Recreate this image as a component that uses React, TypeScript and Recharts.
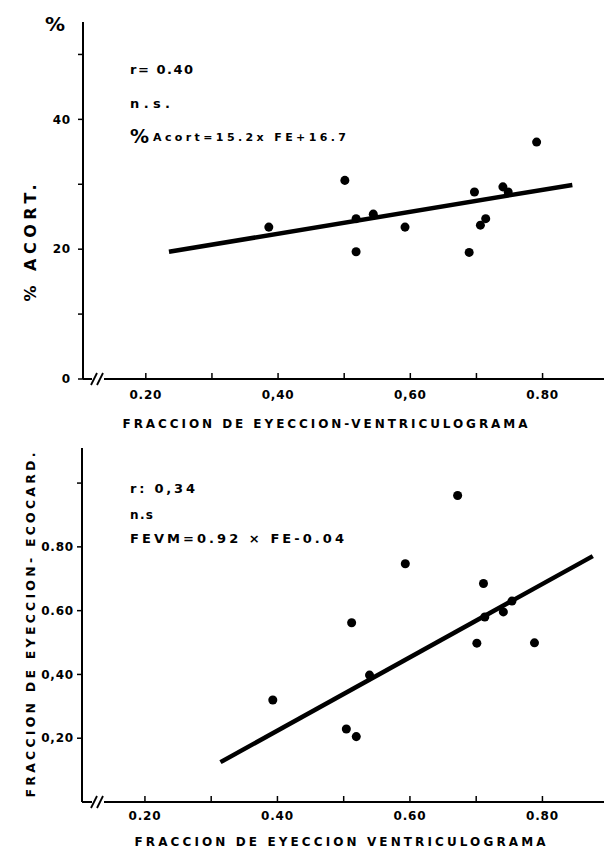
import React from 'react'
import { ScatterChart, Scatter, XAxis, YAxis, ZAxis } from 'recharts'

// top panel: % acortamiento vs FE ventriculograma
const feVentTop = [0.386, 0.501, 0.518, 0.518, 0.544, 0.592, 0.689, 0.697, 0.706, 0.714, 0.74, 0.748, 0.791]
const pctAcort = [23.4, 30.6, 24.7, 19.6, 25.4, 23.4, 19.5, 28.8, 23.7, 24.7, 29.6, 28.8, 36.5]
const fitTopX = [0.235, 0.845]
const fitTopY = [19.6, 29.9]

// bottom panel: FE ecocardiograma vs FE ventriculograma
const feVentBottom = [0.393, 0.504, 0.519, 0.512, 0.539, 0.593, 0.672, 0.701, 0.711, 0.713, 0.741, 0.754, 0.788]
const feEco = [0.32, 0.229, 0.205, 0.562, 0.398, 0.747, 0.961, 0.498, 0.685, 0.58, 0.596, 0.63, 0.499]
const fitBottomX = [0.314, 0.876]
const fitBottomY = [0.125, 0.771]

const xTicks = [0.2, 0.3, 0.4, 0.5, 0.6, 0.7, 0.8]
const xLabelsTop = ['0.20', '', '0,40', '', '0,60', '', '0.80']
const xLabelsBottom = ['0.20', '', '0.40', '', '0.60', '', '0.80']
const yTicksTop = [0, 10, 20, 30, 40, 50]
const yLabelsTop = ['0', '', '20', '', '40', '']
const yTicksBottom = [0.2, 0.4, 0.6, 0.8, 1.0]
const yLabelsBottom = ['0,20', '0,40', '0.60', '0.80', '']

const FONT = '"DejaVu Sans", sans-serif'
const tickStyle = { fontSize: 12, fontWeight: 700, fill: '#000', fontFamily: FONT, letterSpacing: 0.8 }
const axisLine = { stroke: '#000', strokeWidth: 2 }
const tickLine = { stroke: '#000', strokeWidth: 1.5 }

const zip = (xs: number[], ys: number[]) => xs.map((x, i) => ({ x, y: ys[i] }))

interface PanelProps {
  points: { x: number; y: number }[]
  fit: { x: number; y: number }[]
  height: number
  marginTop: number
  xAxisHeight: number
  yAxisWidth: number
  yDomain: [number, number]
  yTicks: number[]
  yLabels: string[]
  xLabels: string[]
  xTickMargin: number
  yTickMargin: number
}

const Panel = (p: PanelProps) => (
  <ScatterChart width={612} height={p.height} margin={{ top: p.marginTop, right: 0, left: 0, bottom: 0 }}>
    <XAxis
      xAxisId="b"
      type="number"
      dataKey="x"
      domain={[0.105, 0.905]}
      ticks={xTicks}
      tickFormatter={(_v: number, i: number) => p.xLabels[i]}
      height={p.xAxisHeight}
      tickSize={-6}
      tickMargin={p.xTickMargin}
      tick={tickStyle}
      axisLine={axisLine}
      tickLine={tickLine}
      allowDataOverflow
    />
    <XAxis
      xAxisId="t"
      orientation="top"
      type="number"
      dataKey="x"
      domain={[0.105, 0.905]}
      ticks={xTicks}
      height={0}
      tick={false}
      tickSize={-6}
      axisLine={axisLine}
      tickLine={tickLine}
      allowDataOverflow
    />
    <YAxis
      type="number"
      dataKey="y"
      domain={p.yDomain}
      ticks={p.yTicks}
      tickFormatter={(_v: number, i: number) => p.yLabels[i]}
      width={p.yAxisWidth}
      tickSize={5}
      tickMargin={p.yTickMargin}
      tick={tickStyle}
      axisLine={axisLine}
      tickLine={tickLine}
      allowDataOverflow
    />
    <ZAxis range={[64, 64]} />
    <Scatter
      data={p.fit}
      xAxisId="b"
      line={{ stroke: '#000', strokeWidth: 4.5 }}
      shape={() => <g />}
      isAnimationActive={false}
    />
    <Scatter data={p.points} xAxisId="b" fill="#000" shape="circle" isAnimationActive={false} />
  </ScatterChart>
)

const txt = { fontFamily: FONT, fontWeight: 700, fill: '#000' } as const

const AxisBreak = ({ y }: { y: number }) => (
  <g>
    <rect x={92} y={y - 3} width={12} height={6} fill="#fff" />
    <line x1={91} y1={y + 6} x2={97} y2={y - 6} stroke="#000" strokeWidth={1.8} />
    <line x1={97} y1={y + 6} x2={103} y2={y - 6} stroke="#000" strokeWidth={1.8} />
  </g>
)

export default function App() {
  return (
    <div style={{ position: 'absolute', left: 0, top: 0, width: 604, height: 852, overflow: 'hidden', background: '#fff' }}>
      <div style={{ position: 'absolute', left: 0, top: 0 }}>
        <Panel
          points={zip(feVentTop, pctAcort)}
          fit={zip(fitTopX, fitTopY)}
          height={440}
          marginTop={22}
          xAxisHeight={61}
          yAxisWidth={83}
          yDomain={[0, 55]}
          yTicks={yTicksTop}
          yLabels={yLabelsTop}
          xLabels={xLabelsTop}
          xTickMargin={17}
          yTickMargin={7}
        />
      </div>
      <div style={{ position: 'absolute', left: 0, top: 440 }}>
        <Panel
          points={zip(feVentBottom, feEco)}
          fit={zip(fitBottomX, fitBottomY)}
          height={412}
          marginTop={8}
          xAxisHeight={50}
          yAxisWidth={82}
          yDomain={[0, 1.11]}
          yTicks={yTicksBottom}
          yLabels={yLabelsBottom}
          xLabels={xLabelsBottom}
          xTickMargin={15}
          yTickMargin={3}
        />
      </div>
      <svg width={604} height={852} style={{ position: 'absolute', left: 0, top: 0, pointerEvents: 'none' }}>
        <AxisBreak y={379} />
        <AxisBreak y={802} />

        {/* top panel */}
        <text x={45} y={31} fontSize={20} {...txt}>%</text>
        <text x={130} y={74} fontSize={13} textLength={63} lengthAdjust="spacing" {...txt}>r= 0.40</text>
        <text x={130} y={108} fontSize={13} textLength={40} lengthAdjust="spacing" {...txt}>n.s.</text>
        <text x={130} y={143} fontSize={19} {...txt}>%</text>
        <text x={153} y={141} fontSize={11} textLength={193} lengthAdjust="spacing" {...txt}>Acort=15.2x FE+16.7</text>
        <text x={325} y={428} fontSize={12} textAnchor="middle" textLength={405} lengthAdjust="spacing" {...txt}>
          FRACCION DE EYECCION-VENTRICULOGRAMA
        </text>
        <text transform="translate(36,243) rotate(-90)" fontSize={16} textAnchor="middle" textLength={117} lengthAdjust="spacing" {...txt}>
          % ACORT.
        </text>

        {/* bottom panel */}
        <text x={130} y={493} fontSize={13} textLength={65} lengthAdjust="spacing" {...txt}>r: 0,34</text>
        <text x={130} y={519} fontSize={12} textLength={23} lengthAdjust="spacing" {...txt}>n.s</text>
        <text x={130} y={543} fontSize={13} textLength={214} lengthAdjust="spacing" {...txt}>FEVM=0.92 × FE-0.04</text>
        <text x={340} y={846} fontSize={12} textAnchor="middle" textLength={411} lengthAdjust="spacing" {...txt}>
          FRACCION DE  EYECCION VENTRICULOGRAMA
        </text>
        <text transform="translate(35,625) rotate(-90)" fontSize={12.5} textAnchor="middle" textLength={345} lengthAdjust="spacing" {...txt}>
          FRACCION DE EYECCION- ECOCARD.
        </text>
      </svg>
    </div>
  )
}
